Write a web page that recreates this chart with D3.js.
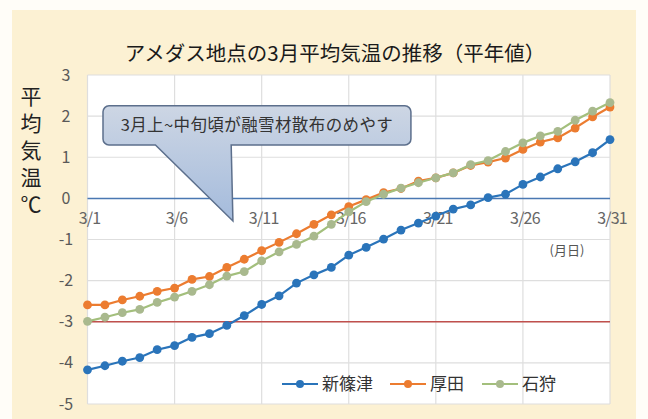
<!DOCTYPE html>
<html>
<head>
<meta charset="utf-8">
<script src="https://cdn.jsdelivr.net/npm/d3@7"></script>
<style>
  body { margin: 0; background: #fffdf8; }
  svg { display: block; font-family: "Noto Sans CJK JP", "Noto Sans", sans-serif; }
</style>
</head>
<body>
<div id="chart"></div>
<script>
const days = [1, 2, 3, 4, 5, 6, 7, 8, 9, 10, 11, 12, 13, 14, 15, 16, 17, 18, 19, 20, 21, 22, 23, 24, 25, 26, 27, 28, 29, 30, 31];
const tickDays = [1, 6, 11, 16, 21, 26, 31];
const yTicks = [3, 2, 1, 0, -1, -2, -3, -4, -5];

const shinshinotsu = [-4.17, -4.07, -3.96, -3.87, -3.68, -3.58, -3.38, -3.29, -3.09, -2.85, -2.58, -2.37, -2.06, -1.86, -1.68, -1.38, -1.19, -0.99, -0.77, -0.6, -0.43, -0.26, -0.16, 0.02, 0.1, 0.34, 0.52, 0.72, 0.89, 1.11, 1.43];
const atsuta = [-2.59, -2.59, -2.47, -2.38, -2.26, -2.18, -1.97, -1.9, -1.68, -1.48, -1.27, -1.07, -0.86, -0.63, -0.4, -0.2, -0.03, 0.14, 0.24, 0.42, 0.5, 0.62, 0.8, 0.88, 0.98, 1.19, 1.37, 1.47, 1.71, 1.98, 2.22];
const ishikari = [-2.99, -2.89, -2.78, -2.7, -2.53, -2.4, -2.26, -2.1, -1.89, -1.78, -1.52, -1.3, -1.12, -0.92, -0.63, -0.33, -0.08, 0.1, 0.25, 0.38, 0.5, 0.62, 0.82, 0.92, 1.14, 1.35, 1.52, 1.63, 1.9, 2.12, 2.33];

const seriesNames = ["新篠津", "厚田", "石狩"];
const seriesColors = ["#2a74ba", "#ec7c30", "#a3bf7c"];
const markerColors = ["#2a74ba", "#ec7c30", "#a9b98e"];
const refLine = -3;

const width = 648, height = 419;
const plot = { left: 87.5, right: 610, top: 75, bottom: 404 };

const svg = d3.select("#chart").append("svg")
  .attr("width", width)
  .attr("height", height);

// cream panel
svg.append("rect")
  .attr("x", 12).attr("y", 10)
  .attr("width", 624).attr("height", 409)
  .attr("fill", "#fcf1d3");

const x = d3.scaleLinear().domain([1, 31]).range([plot.left, plot.right]);
const y = d3.scaleLinear().domain([-5, 3]).range([plot.bottom, plot.top]);

svg.append("rect")
  .attr("x", plot.left).attr("y", plot.top)
  .attr("width", plot.right - plot.left).attr("height", plot.bottom - plot.top)
  .attr("fill", "#ffffff");

// grid
svg.append("g")
  .selectAll("line")
  .data(yTicks.filter(d => d !== 0))
  .join("line")
  .attr("x1", plot.left).attr("x2", plot.right)
  .attr("y1", d => y(d)).attr("y2", d => y(d))
  .attr("stroke", "#dedede").attr("stroke-width", 1.2);

svg.append("g")
  .selectAll("line")
  .data(tickDays)
  .join("line")
  .attr("x1", d => x(d)).attr("x2", d => x(d))
  .attr("y1", plot.top).attr("y2", plot.bottom)
  .attr("stroke", "#dedede").attr("stroke-width", 1.2);

// y tick labels
svg.append("g")
  .selectAll("text")
  .data(yTicks)
  .join("text")
  .attr("x", 66)
  .attr("y", d => y(d) + 5.5)
  .attr("text-anchor", "middle")
  .attr("font-size", 16)
  .attr("fill", "#595959")
  .text(d => d);

// zero axis
svg.append("line")
  .attr("x1", plot.left).attr("x2", plot.right)
  .attr("y1", y(0)).attr("y2", y(0))
  .attr("stroke", "#4a78b2").attr("stroke-width", 1.5);

// reference line
svg.append("line")
  .attr("x1", plot.left).attr("x2", plot.right)
  .attr("y1", y(refLine)).attr("y2", y(refLine))
  .attr("stroke", "#c0504d").attr("stroke-width", 1.5);

// x tick labels
svg.append("g")
  .selectAll("text")
  .data(tickDays)
  .join("text")
  .attr("x", d => x(d) + 2)
  .attr("y", y(0) + 26)
  .attr("text-anchor", "middle")
  .attr("font-size", 16)
  .attr("fill", "#666")
  .attr("letter-spacing", -0.8)
  .text(d => "3/" + d);

svg.append("text")
  .attr("x", 567).attr("y", 255)
  .attr("text-anchor", "middle")
  .attr("font-size", 13)
  .attr("fill", "#555")
  .text("(月日)");

// callout
const call = { x0: 1.89, x1: 19.57, y0: 2.25, y1: 1.3, b0: 4.9, b1: 9.25, tipX: 9.35, tipY: -0.55 };
const grad = svg.append("defs").append("linearGradient")
  .attr("id", "callfill").attr("x1", 0).attr("y1", 0).attr("x2", 0).attr("y2", 1);
grad.append("stop").attr("offset", "0%").attr("stop-color", "#cdd6e4");
grad.append("stop").attr("offset", "100%").attr("stop-color", "#a4bbdc");

const r = 6;
const bx0 = x(call.x0), bx1 = x(call.x1), by0 = y(call.y0), by1 = y(call.y1);
const p = d3.path();
p.moveTo(bx0 + r, by0);
p.lineTo(bx1 - r, by0);
p.arcTo(bx1, by0, bx1, by0 + r, r);
p.lineTo(bx1, by1 - r);
p.arcTo(bx1, by1, bx1 - r, by1, r);
p.lineTo(x(call.b1), by1);
p.lineTo(x(call.tipX), y(call.tipY));
p.lineTo(x(call.b0), by1);
p.lineTo(bx0 + r, by1);
p.arcTo(bx0, by1, bx0, by1 - r, r);
p.lineTo(bx0, by0 + r);
p.arcTo(bx0, by0, bx0 + r, by0, r);
p.closePath();
svg.append("path")
  .attr("d", p.toString())
  .attr("fill", "url(#callfill)")
  .attr("stroke", "#5c6f8c")
  .attr("stroke-width", 1.5);

svg.append("text")
  .attr("x", (bx0 + bx1) / 2).attr("y", (by0 + by1) / 2 + 6)
  .attr("text-anchor", "middle")
  .attr("font-size", 16.5)
  .attr("letter-spacing", 0.4)
  .attr("fill", "#333")
  .text("3月上~中旬頃が融雪材散布のめやす");

// series
const seriesData = [shinshinotsu, atsuta, ishikari];
const line = d3.line().x((d, i) => x(days[i])).y(d => y(d));

seriesData.forEach((vals, k) => {
  svg.append("path")
    .datum(vals)
    .attr("fill", "none")
    .attr("stroke", seriesColors[k])
    .attr("stroke-width", 2.2)
    .attr("d", line);
  svg.append("g")
    .selectAll("circle")
    .data(vals)
    .join("circle")
    .attr("cx", (d, i) => x(days[i]))
    .attr("cy", d => y(d))
    .attr("r", 4.4)
    .attr("fill", markerColors[k]);
});

// title
svg.append("text")
  .attr("x", 335).attr("y", 61)
  .attr("text-anchor", "middle")
  .attr("font-size", 20.5)
  .attr("fill", "#1a1a1a")
  .text("アメダス地点の3月平均気温の推移（平年値）");

// y axis title, set vertically
svg.append("text")
  .attr("x", 31)
  .attr("y", 86)
  .attr("font-size", 21)
  .attr("fill", "#222")
  .style("writing-mode", "vertical-rl")
  .attr("letter-spacing", 6)
  .text("平均気温℃");

// legend
const legendX = [282, 390, 482];
const legend = svg.append("g")
  .selectAll("g")
  .data(seriesNames)
  .join("g")
  .attr("transform", (d, i) => `translate(${legendX[i]}, 384)`);
legend.append("line")
  .attr("x1", 0).attr("x2", 36)
  .attr("stroke", (d, i) => seriesColors[i])
  .attr("stroke-width", 2.2);
legend.append("circle")
  .attr("cx", 18).attr("r", 4)
  .attr("fill", (d, i) => markerColors[i]);
legend.append("text")
  .attr("x", 40).attr("y", 6)
  .attr("font-size", 17)
  .attr("fill", "#333")
  .text(d => d);
</script>
</body>
</html>
